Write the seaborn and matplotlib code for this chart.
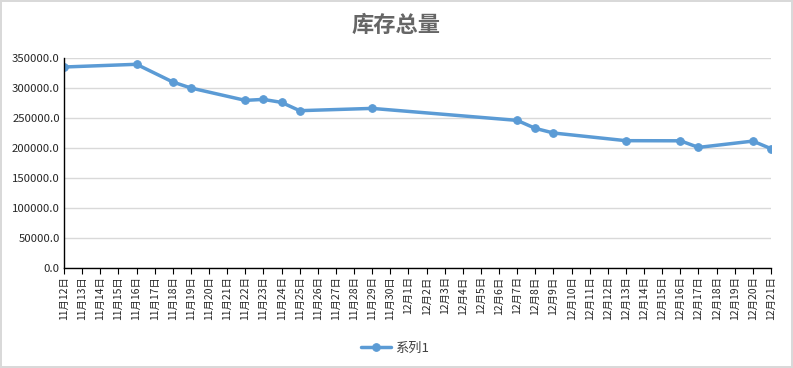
import pandas as pd
import matplotlib
matplotlib.use('Agg')
from matplotlib import pyplot as plt
from matplotlib.ticker import FormatStrFormatter
import seaborn as sns

# every day on the category axis
day_labels = ['11月%d日' % d for d in range(12, 31)] + ['12月%d日' % d for d in range(1, 22)]

# days that have a value
data_days = ['11月12日', '11月16日', '11月18日', '11月19日', '11月22日', '11月23日',
             '11月24日', '11月25日', '11月29日', '12月7日', '12月8日', '12月9日',
             '12月13日', '12月16日', '12月17日', '12月20日', '12月21日']
stock = [335000, 339500, 310000, 300000, 279400, 281000,
         276000, 262200, 266000, 246000, 232700, 225000,
         212200, 212000, 201000, 211500, 198900]

sns.set_style('white')
plt.rcParams['font.family'] = ['Noto Sans CJK SC', 'DejaVu Sans']

df = pd.DataFrame({'pos': [day_labels.index(d) for d in data_days], 'stock': stock})

fig = plt.figure(figsize=(7.93, 3.68), dpi=100)
fig.patch.set_edgecolor('#D9D9D9')
fig.patch.set_linewidth(1.5)
ax = fig.add_axes([64 / 793, 1 - 268 / 368, (771 - 64) / 793, (268 - 58) / 368])

blue = '#5B9BD5'
sns.lineplot(data=df, x='pos', y='stock', ax=ax, color=blue, linewidth=2.5,
             marker='o', markersize=5.5, markeredgecolor=blue, label='系列1')

ax.set_xlim(0, len(day_labels) - 1)
ax.set_ylim(0, 350000)
ax.set_yticks(range(0, 350001, 50000))
ax.yaxis.set_major_formatter(FormatStrFormatter('%.1f'))
ax.set_xticks(range(len(day_labels)))
ax.set_xticklabels(day_labels, rotation=90, fontsize=7.5, color='#262626')
ax.tick_params(axis='y', labelsize=8.2, colors='#262626', length=0, pad=3)
ax.tick_params(axis='x', length=4, width=0.8, color='black', pad=2, direction='out', bottom=True)
ax.grid(axis='y', color='#D9D9D9', linewidth=1)
ax.set_axisbelow(True)
for s in ['top', 'right']:
    ax.spines[s].set_visible(False)
ax.spines['bottom'].set_color('black')
ax.spines['left'].set_color('black')
ax.spines['bottom'].set_linewidth(1)
ax.spines['left'].set_linewidth(1)
ax.set_xlabel('')
ax.set_ylabel('')

fig.text(0.5, 1 - 25 / 368, '库存总量', ha='center', va='center', fontsize=16,
         fontweight='bold', color='#666666')

ax.legend(loc='center', bbox_to_anchor=(395 / 793, 1 - 348 / 368), bbox_transform=fig.transFigure,
          frameon=False, fontsize=9.5, handlelength=2.3, handletextpad=0.3, labelcolor='#404040')

plt.savefig('out.png', dpi=100)
